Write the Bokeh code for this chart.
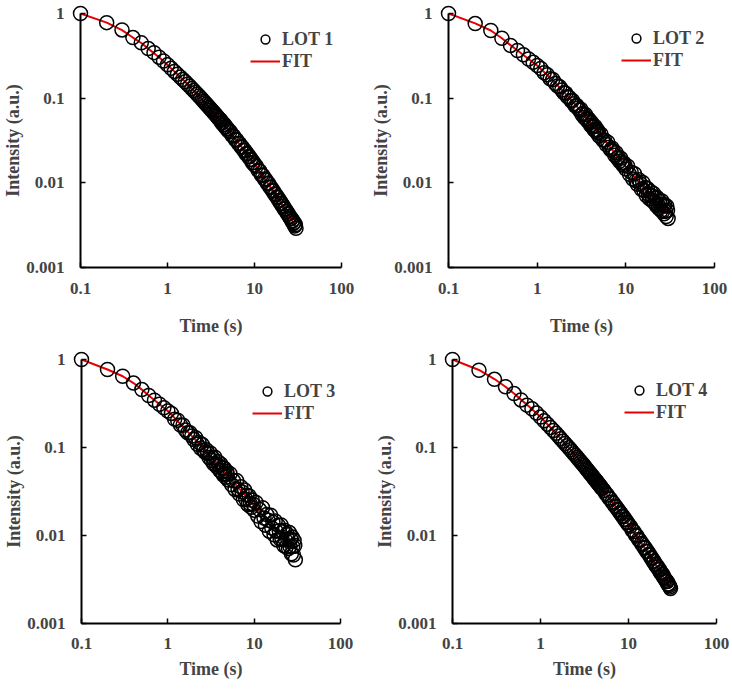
from bokeh.plotting import figure
from bokeh.layouts import column, row
from bokeh.models import Legend, LegendItem, FixedTicker
from bokeh.embed import file_html
from bokeh.resources import INLINE

# measured decay curves, sampled at the same times for all four lots
time_s = [0.1, 0.2, 0.3, 0.4, 0.5, 0.6, 0.7, 0.8, 0.9, 1.0,
          1.1, 1.2, 1.3, 1.4, 1.5, 1.6, 1.7, 1.8, 1.9, 2.0,
          2.1, 2.2, 2.3, 2.4, 2.5, 2.6, 2.7, 2.8, 2.9, 3.0,
          3.1, 3.2, 3.3, 3.4, 3.5, 3.6, 3.7, 3.8, 3.9, 4.0,
          4.1, 4.2, 4.3, 4.4, 4.5, 4.6, 4.7, 4.8, 4.9, 5.0,
          5.25, 5.5, 5.75, 6.0, 6.25, 6.5, 6.75, 7.0, 7.25, 7.5,
          7.75, 8.0, 8.25, 8.5, 8.75, 9.0, 9.25, 9.5, 9.75, 10,
          10.5, 11, 11.5, 12, 12.5, 13, 13.5, 14, 14.5, 15,
          15.5, 16, 16.5, 17, 17.5, 18, 18.5, 19, 19.5, 20,
          20.5, 21, 21.5, 22, 22.5, 23, 23.5, 24, 24.5, 25,
          25.5, 26, 26.5, 27, 27.5, 28, 28.5, 29, 29.5, 30]

lot1 = [1.0, 0.78, 0.64, 0.52, 0.45, 0.385, 0.345, 0.305, 0.275, 0.248,
        0.225, 0.207, 0.191, 0.178, 0.166, 0.156, 0.146, 0.138, 0.130, 0.123,
        0.117, 0.111, 0.106, 0.101, 0.0963, 0.0922, 0.0884, 0.0848, 0.0815, 0.0783,
        0.0754, 0.0726, 0.0699, 0.0677, 0.0653, 0.0631, 0.0611, 0.0591, 0.0573, 0.0556,
        0.0548, 0.0513, 0.0514, 0.0484, 0.0490, 0.0458, 0.0460, 0.0434, 0.0436, 0.0412,
        0.0403, 0.0365, 0.0358, 0.0325, 0.0321, 0.0293, 0.0290, 0.0266, 0.0263, 0.0242,
        0.0241, 0.0221, 0.0220, 0.0204, 0.0203, 0.0188, 0.0188, 0.0173, 0.0174, 0.0162,
        0.0157, 0.0141, 0.0138, 0.0124, 0.0122, 0.0111, 0.0109, 0.0099, 0.0098, 0.0089,
        0.0088, 0.0081, 0.0080, 0.0074, 0.0073, 0.0068, 0.0067, 0.0062, 0.0062, 0.0057,
        0.0057, 0.0053, 0.0053, 0.0049, 0.0049, 0.0046, 0.0046, 0.0043, 0.0043, 0.0040,
        0.0040, 0.0038, 0.0038, 0.0035, 0.0036, 0.0033, 0.0034, 0.0031, 0.0032, 0.0029]

lot2 = [1.0, 0.76, 0.63, 0.51, 0.42, 0.366, 0.325, 0.29, 0.265, 0.243,
        0.224, 0.200, 0.189, 0.170, 0.166, 0.149, 0.139, 0.136, 0.125, 0.116,
        0.114, 0.104, 0.102, 0.094, 0.094, 0.086, 0.081, 0.082, 0.0765, 0.072,
        0.0740, 0.0643, 0.0658, 0.0590, 0.0641, 0.0566, 0.0536, 0.0566, 0.0527, 0.0479,
        0.0518, 0.0455, 0.0470, 0.0424, 0.0464, 0.0412, 0.0392, 0.0418, 0.0392, 0.0358,
        0.0376, 0.0320, 0.0321, 0.0283, 0.0302, 0.0263, 0.0245, 0.0256, 0.0236, 0.0212,
        0.0227, 0.0197, 0.0201, 0.0180, 0.0195, 0.0173, 0.0162, 0.0172, 0.0160, 0.0146,
        0.0157, 0.0126, 0.0133, 0.0111, 0.0128, 0.0106, 0.0096, 0.0109, 0.0098, 0.0084,
        0.0101, 0.0081, 0.0088, 0.0071, 0.0086, 0.0073, 0.0065, 0.0079, 0.0071, 0.0061,
        0.0075, 0.0059, 0.0066, 0.0054, 0.0067, 0.0055, 0.0050, 0.0061, 0.0056, 0.0047,
        0.0061, 0.0046, 0.0054, 0.0043, 0.0055, 0.0046, 0.0040, 0.0053, 0.0047, 0.0038]

lot3 = [1.0, 0.77, 0.645, 0.54, 0.455, 0.39, 0.345, 0.31, 0.283, 0.26,
        0.244, 0.210, 0.204, 0.180, 0.179, 0.158, 0.147, 0.147, 0.135, 0.123,
        0.129, 0.109, 0.114, 0.098, 0.108, 0.093, 0.088, 0.094, 0.086, 0.077,
        0.0867, 0.0714, 0.0764, 0.0654, 0.0774, 0.0649, 0.0603, 0.0688, 0.0625, 0.0547,
        0.0650, 0.0531, 0.0590, 0.0488, 0.0582, 0.0500, 0.0458, 0.0537, 0.0496, 0.0428,
        0.0504, 0.0377, 0.0418, 0.0334, 0.0422, 0.0336, 0.0296, 0.0359, 0.0313, 0.0256,
        0.0328, 0.0258, 0.0286, 0.0224, 0.0282, 0.0229, 0.0209, 0.0252, 0.0227, 0.0194,
        0.0237, 0.0167, 0.0197, 0.0144, 0.0207, 0.0158, 0.0131, 0.0173, 0.0149, 0.0112,
        0.0170, 0.0122, 0.0141, 0.0102, 0.0146, 0.0112, 0.0089, 0.0131, 0.0113, 0.0091,
        0.0132, 0.0091, 0.0111, 0.0077, 0.0115, 0.0089, 0.0074, 0.0104, 0.0091, 0.0071,
        0.0108, 0.0075, 0.0091, 0.0062, 0.0096, 0.0075, 0.0060, 0.0088, 0.0077, 0.0053]

lot4 = [1.0, 0.755, 0.595, 0.49, 0.41, 0.347, 0.303, 0.275, 0.246, 0.222,
        0.201, 0.184, 0.169, 0.156, 0.145, 0.135, 0.126, 0.118, 0.111, 0.105,
        0.0993, 0.0941, 0.0892, 0.0850, 0.0810, 0.0773, 0.0740, 0.0708, 0.0679, 0.0652,
        0.0627, 0.0603, 0.0579, 0.0560, 0.0539, 0.0521, 0.0504, 0.0487, 0.0471, 0.0456,
        0.0442, 0.0430, 0.0417, 0.0405, 0.0393, 0.0382, 0.0372, 0.0362, 0.0352, 0.0343,
        0.0325, 0.0300, 0.0288, 0.0267, 0.0259, 0.0240, 0.0233, 0.0217, 0.0211, 0.0198,
        0.0193, 0.0181, 0.0177, 0.0166, 0.0163, 0.0153, 0.0151, 0.0142, 0.0140, 0.0132,
        0.0127, 0.0115, 0.0111, 0.0101, 0.0099, 0.0090, 0.0088, 0.0081, 0.0079, 0.0073,
        0.0072, 0.0066, 0.0066, 0.0061, 0.0060, 0.0056, 0.0055, 0.0051, 0.0051, 0.0047,
        0.0047, 0.0044, 0.0044, 0.0041, 0.0041, 0.0038, 0.0038, 0.0036, 0.0036, 0.0034,
        0.0033, 0.0032, 0.0031, 0.0030, 0.0030, 0.0028, 0.0028, 0.0027, 0.0026, 0.0025]

# fitted curves
fit_time = [0.1, 0.2, 0.3, 0.4, 0.5, 0.6, 0.8, 1.0, 1.3, 1.6, 2.0, 2.6,
            3.3, 4.0, 5.0, 6.5, 8.0, 10, 13, 16, 20, 25, 30]
fit1 = [1.0, 0.78, 0.635, 0.52, 0.448, 0.385, 0.305, 0.246, 0.191, 0.156, 0.123, 0.0922,
        0.0699, 0.0556, 0.0420, 0.0299, 0.0226, 0.0165, 0.0113, 0.00825, 0.00583, 0.00408, 0.00302]
fit2 = [1.0, 0.765, 0.63, 0.51, 0.423, 0.366, 0.29, 0.243, 0.1874, 0.151, 0.1182, 0.0872,
        0.0651, 0.051, 0.0381, 0.0271, 0.0207, 0.0155, 0.01113, 0.0087, 0.00677, 0.00535, 0.00446]
fit3 = [1.0, 0.77, 0.645, 0.54, 0.455, 0.39, 0.31, 0.26, 0.1995, 0.1613, 0.1279, 0.0969,
        0.0749, 0.0608, 0.0475, 0.0354, 0.028, 0.0216, 0.0166, 0.0135, 0.0108, 0.00865, 0.00721]
fit4 = [1.0, 0.76, 0.6, 0.49, 0.41, 0.35, 0.273, 0.222, 0.1687, 0.1348, 0.1049, 0.0773,
        0.0579, 0.0456, 0.0343, 0.0242, 0.0183, 0.01337, 0.00915, 0.00673, 0.00479, 0.00338, 0.00253]

lot_names = ["LOT 1", "LOT 2", "LOT 3", "LOT 4"]

x_ticks = [0.1, 1, 10, 100]
x_tick_labels = ["0.1", "1", "10", "100"]
y_ticks = [0.001, 0.01, 0.1, 1]
y_tick_labels = ["0.001", "0.01", "0.1", "1"]

FONT = "Liberation Serif"


def make_panel(name, values, fit_values, size, borders, legend_at, x_gaps):
    left, right, top, bottom = borders
    p = figure(width=size[0], height=size[1], x_axis_type="log", y_axis_type="log",
               x_range=(0.1, 100), y_range=(0.001, 1),
               output_backend="svg", toolbar_location=None,
               min_border_left=left, min_border_right=right,
               min_border_top=top, min_border_bottom=bottom)
    p.outline_line_color = None
    p.grid.visible = False

    ln = p.line(fit_time, fit_values, line_color="#e60000", line_width=2)
    sc = p.scatter(time_s, values, size=14, marker="circle",
                   fill_color=None, line_color="black", line_width=1.5)
    sc.level = "overlay"

    for ax, ticks, labels in ((p.xaxis[0], x_ticks, x_tick_labels),
                              (p.yaxis[0], y_ticks, y_tick_labels)):
        ax.ticker = FixedTicker(ticks=ticks)
        ax.major_label_overrides = dict(zip(ticks, labels))
        ax.axis_line_width = 2
        ax.major_tick_in = 5
        ax.major_tick_out = 0
        ax.major_tick_line_width = 1.5
        ax.minor_tick_line_color = None
        ax.major_label_text_font = FONT
        ax.major_label_text_font_style = "bold"
        ax.major_label_text_font_size = "17px"
        ax.axis_label_text_font = FONT
        ax.axis_label_text_font_style = "bold"
        ax.axis_label_text_font_size = "18px"

    p.xaxis.axis_label = "Time (s)"
    p.xaxis.major_label_standoff = x_gaps[0]
    p.xaxis.axis_label_standoff = x_gaps[1]
    p.yaxis.axis_label = "Intensity (a.u.)"
    p.yaxis.major_label_standoff = 16
    p.yaxis.axis_label_standoff = 0

    legend = Legend(items=[LegendItem(label=name, renderers=[sc]),
                           LegendItem(label="FIT", renderers=[ln])],
                    location=legend_at, padding=0, margin=0, spacing=-5,
                    glyph_width=30, glyph_height=22, label_height=22,
                    label_standoff=2, border_line_color=None,
                    background_fill_alpha=0)
    legend.label_text_font = FONT
    legend.label_text_font_style = "bold"
    legend.label_text_font_size = "18px"
    p.add_layout(legend)
    return p


p1 = make_panel(lot_names[0], lot1, fit1, (366, 340), (80, 25, 13, 73), (170, 195), (15, 19))
p2 = make_panel(lot_names[1], lot2, fit2, (365, 340), (82, 17, 13, 73), (173, 196), (15, 19))
p3 = make_panel(lot_names[2], lot3, fit3, (366, 352), (81, 26, 19, 69), (171, 199), (14, 7))
p4 = make_panel(lot_names[3], lot4, fit4, (365, 352), (86, 15, 19, 69), (172, 200), (14, 7))

p = column(row(p1, p2), row(p3, p4))

open("out.html", "w").write(file_html(p, INLINE))
